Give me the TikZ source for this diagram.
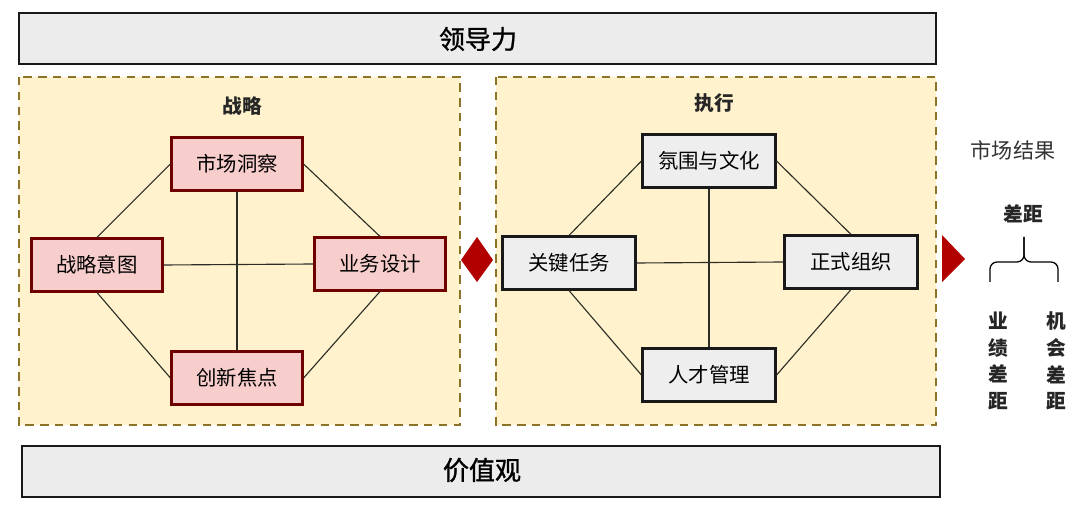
\documentclass[tikz,border=0pt]{standalone}
\usepackage{fontspec}
\setmainfont{Noto Sans CJK SC}
\newfontfamily\midfont{Noto Sans CJK SC}[FakeBold=1.2]
\usepackage{tikz}
\usetikzlibrary{arrows.meta, positioning, shapes.geometric, calc}
\usepackage{xcolor}
\definecolor{bargray}{RGB}{236,236,236}
\definecolor{panelyellow}{RGB}{255,242,204}
\definecolor{paneledge}{RGB}{140,115,40}
\definecolor{stratpink}{RGB}{248,206,204}
\definecolor{stratedge}{RGB}{111,0,0}
\definecolor{execgray}{RGB}{238,238,238}
\definecolor{markred}{RGB}{178,0,0}
\definecolor{linkgray}{RGB}{45,45,40}

\begin{document}
\begin{tikzpicture}[x=0.025cm, y=0.025cm,
        bar/.style={rectangle, draw=black!90, line width=1.4pt, fill=bargray},
        panel/.style={rectangle, draw=paneledge, dash pattern=on 6pt off 4.5pt, line width=1.1pt, fill=panelyellow},
        strat/.style={rectangle, draw=stratedge, line width=1.5pt, fill=stratpink,
                      minimum width=3.275cm, minimum height=1.325cm, font=\fontsize{14.5}{16}\selectfont},
        exec/.style={rectangle, draw=black!90, line width=1.5pt, fill=execgray,
                     minimum width=3.325cm, minimum height=1.325cm, font=\fontsize{14.5}{16}\selectfont},
        link/.style={linkgray, line width=0.8pt},
        heading/.style={font=\fontsize{14}{16}\selectfont\bfseries, text=black!85},
        title/.style={font=\fontsize{18.5}{20}\selectfont\midfont}
    ]
        \useasboundingbox (0,0) rectangle (1080,507);

        % bars and panels
        \draw[bar] (19,494) rectangle (936,443);
        \node[title] (lead) at (478,468) {领导力};
        \draw[bar] (22,61) rectangle (940,10);
        \node[title] (value) at (482,37) {价值观};

        \draw[panel] (19,430) rectangle (460,82);
        \draw[panel] (496,430) rectangle (936,82);
        \node[heading] (strategy) at (242,401) {战略};
        \node[heading] (execution) at (714,404) {执行};

        % strategy side
        \node[strat] (insight) at (237,343) {市场洞察};
        \node[strat] (intent) at (97,242) {战略意图};
        \node[strat] (design) at (380,243) {业务设计};
        \node[strat] (focus) at (237,129) {创新焦点};

        \draw[link] (insight.west) -- (intent.north);
        \draw[link] (insight.east) -- (design.north);
        \draw[link] (intent.south) -- (focus.west);
        \draw[link] (design.south) -- (focus.east);
        \draw[link] (insight.south) -- (focus.north);
        \draw[link] (intent.east) -- (design.west);

        % execution side
        \node[exec] (culture) at (709,346) {氛围与文化};
        \node[exec] (task) at (569,244) {关键任务};
        \node[exec] (org) at (851,245) {正式组织};
        \node[exec] (talent) at (709,132) {人才管理};

        \draw[link] (culture.west) -- (task.north);
        \draw[link] (culture.east) -- (org.north);
        \draw[link] (task.south) -- (talent.west);
        \draw[link] (org.south) -- (talent.east);
        \draw[link] (culture.south) -- (talent.north);
        \draw[link] (task.east) -- (org.west);

        % markers
        \fill[markred] (461,247) -- (477,270) -- (493,247) -- (477,225) -- cycle;
        \fill[markred] (942,272) -- (965,248) -- (942,225) -- cycle;

        % market results
        \node[font=\fontsize{15}{17}\selectfont, text=black!80] (result) at (1013,357) {市场结果};
        \node[heading] (gap) at (1023,293) {差距};
        \coordinate (braceL) at (990,225);
        \coordinate (braceR) at (1058,225);
        \coordinate (braceM) at (1024,245);
        \coordinate (braceT) at (1024,270);
        \draw[line width=0.9pt, rounded corners=5] (braceL) |- (braceM) -- (braceT);
        \draw[line width=0.9pt, rounded corners=5] (braceR) |- (braceM) -- (braceT);
        \node[heading, align=center] (perfgap) at (998,146) {业\\[3pt]绩\\[3pt]差\\[3pt]距};
        \node[heading, align=center] (oppgap) at (1056,146) {机\\[3pt]会\\[3pt]差\\[3pt]距};
    \end{tikzpicture}
\end{document}
